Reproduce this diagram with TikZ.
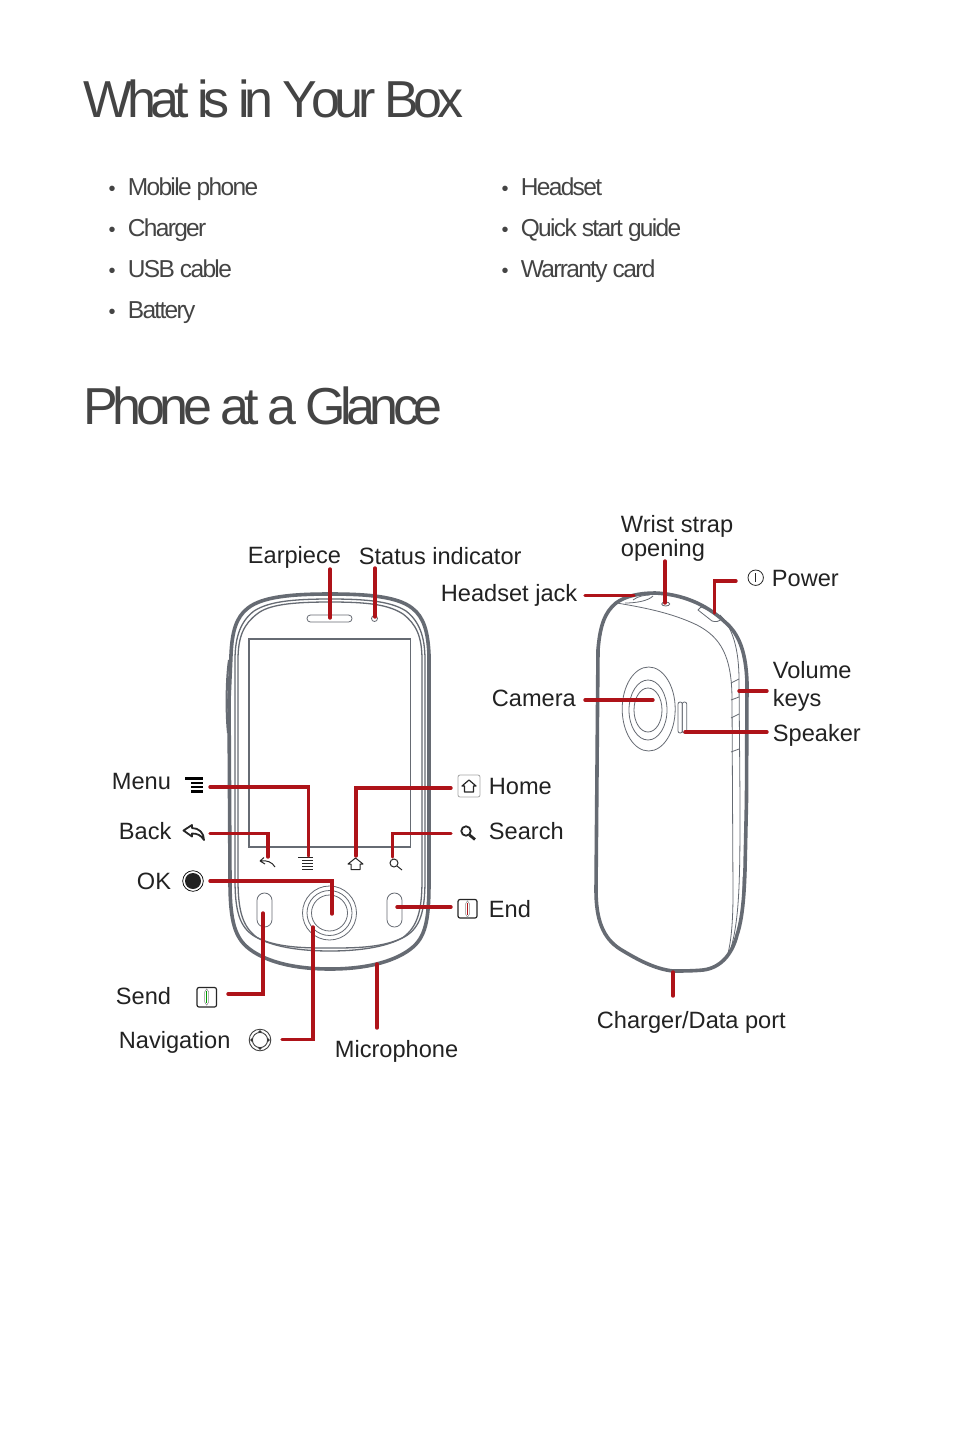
\documentclass[tikz,border=0pt]{standalone}
\usepackage{fontspec}
\setmainfont{Liberation Sans}
\newfontfamily\titlefont[LetterSpace=-10.6,Kerning=Off]{Liberation Sans}
\newfontfamily\listfont[LetterSpace=-6.8]{Liberation Sans}
\definecolor{redline}{HTML}{AE1319}
\definecolor{phonegray}{HTML}{666B73}
\definecolor{titlegray}{HTML}{444444}
\definecolor{labelink}{HTML}{222222}
\tikzset{
  heading/.style={anchor=base west,inner sep=0pt,text=titlegray,font=\titlefont\fontsize{52}{52}\selectfont},
  listitem/.style={anchor=base west,inner sep=0pt,text=titlegray,font=\listfont\fontsize{24.5}{24.5}\selectfont},
  bulletmark/.style={anchor=base,inner sep=0pt,text=titlegray,font=\fontsize{20}{20}\selectfont},
  lab/.style={anchor=base west,inner sep=0pt,text=labelink,font=\fontsize{23.6}{23.6}\selectfont},
  conn/.style={draw=redline,line width=3.4pt,line cap=round,line join=miter},
  thickedge/.style={draw=phonegray,line width=3.6pt,line join=round},
  thinedge/.style={draw=phonegray,line width=0.8pt},
  midedge/.style={draw=phonegray,line width=1.3pt},
  icon/.style={draw=black!85,line width=1pt},
  smallkey/.style={draw=black!85,line width=1pt}
}
\begin{document}
\begin{tikzpicture}[x=1pt,y=-1pt]
\useasboundingbox (0,0) rectangle (954,1429);
\fill[white] (0,0) rectangle (954,1429);

% headings and lists
\node[heading] (t1) at (83.5,117) {What is in Your Box};
\node[heading] (t2) at (83.5,424) {Phone at a Glance};
\foreach \n/\yy/\txt in {a/195/Mobile phone,b/236/Charger,c/277/USB cable,d/318/Battery}{
  \node[bulletmark] (bl\n) at (112,\yy) {•};
  \node[listitem] (il\n) at (127.6,\yy) {\txt};
}
\foreach \n/\yy/\txt in {a/195/Headset,b/236/Quick start guide,c/277/Warranty card}{
  \node[bulletmark] (br\n) at (505,\yy) {•};
  \node[listitem] (ir\n) at (520.6,\yy) {\txt};
}

% front of phone: outer edge
\draw[thickedge] (330,594)
  .. controls (290,594) and (262,597) .. (248,608)
  .. controls (236,617) and (232,632) .. (231,655)
  -- (229,700) -- (230,880)
  .. controls (230,915) and (233,935) .. (247,947)
  .. controls (262,960) and (290,969) .. (330,969)
  .. controls (370,969) and (398,960) .. (413,947)
  .. controls (427,935) and (429,915) .. (429,880)
  -- (429,655)
  .. controls (428,632) and (424,617) .. (412,608)
  .. controls (398,597) and (370,594) .. (330,594) -- cycle;
\draw[draw=phonegray,line width=2pt] (229,660) .. controls (226,680) and (226,715) .. (228,733);
% front: inner edges
\foreach \d in {0,3}{
\draw[midedge] (330,{599+\d})
  .. controls (290,{599+\d}) and (268,{602+\d}) .. ({254+\d},{611+\d})
  .. controls ({241+\d},{621+\d}) and ({235+\d},636) .. ({235+\d},660)
  -- ({235+\d},880)
  .. controls ({235+\d},912) and ({240+\d},927) .. ({254+\d},{936+\d/2})
  .. controls (275,948) and (305,{948+\d}) .. (330,{948+\d})
  .. controls (355,{948+\d}) and (385,948) .. ({406-\d},{936+\d/2})
  .. controls ({420-\d},927) and ({425-\d},912) .. ({425-\d},880)
  -- ({425-\d},660)
  .. controls ({425-\d},636) and ({419-\d},{621+\d}) .. ({406-\d},{611+\d})
  .. controls ({392-\d},{602+\d}) and (370,{599+\d}) .. (330,{599+\d}) -- cycle;
}
% screen and openings
\draw[draw=phonegray,line width=1.3pt] (249,639) rectangle (410.7,847);
\draw[thinedge,rounded corners=3.4pt] (307,615) rectangle (352,622);
\draw[thinedge] (374.5,618.5) circle (3);
\draw[thinedge,rounded corners=7.4pt] (257,893) rectangle (272,927);
\draw[thinedge,rounded corners=7.4pt] (387,893) rectangle (402,927);
\foreach \r in {27,22.5,18}{\draw[thinedge] (329.5,913) circle (\r);}

% small keys on the phone
\draw[smallkey] (260,861) -- (264,857.5) (260,861) -- (265,864) (260.5,861) .. controls (267,860) and (272,862) .. (275,867);
\draw[smallkey] (298,857.5) -- (313,857.5) (302,860.5) -- (313,860.5) (302,863.5) -- (313,863.5) (302,866.5) -- (313,866.5) (302,869) -- (313,869);
\draw[smallkey,line join=round] (348,864) -- (355.5,858) -- (363,864) -- (360,864) -- (360,869.5) -- (351,869.5) -- (351,864) -- cycle;
\draw[smallkey] (394,863) circle (4);
\draw[smallkey] (397,866) -- (402,870);

% back of phone
\draw[thickedge] (655,593)
  .. controls (680,594) and (705,603) .. (725,622)
  .. controls (738,633) and (746,650) .. (747,683)
  -- (746.5,800) -- (745,870)
  .. controls (744,900) and (742,920) .. (737,935)
  .. controls (732,955) and (720,968) .. (703,970)
  .. controls (693,971) and (680,971) .. (673,971)
  .. controls (655,969) and (638,960) .. (620,949)
  .. controls (603,938) and (596,920) .. (596,890)
  -- (597,770) -- (598,650)
  .. controls (600,625) and (605,612) .. (616,603)
  .. controls (625,596) and (640,593) .. (655,593) -- cycle;
\draw[thinedge] (617,603) .. controls (640,607) and (670,612) .. (697,625)
  .. controls (720,637) and (732,655) .. (732,700) -- (733,893)
  .. controls (733,915) and (732,940) .. (727,957);
\draw[thinedge] (720,615) .. controls (733,628) and (739,650) .. (739,680) -- (740,800)
  .. controls (740,880) and (740,925) .. (728,957);
\draw[thinedge] (743,877) .. controls (743,915) and (740,935) .. (730,950);
\foreach \ya/\yb in {683/679,700/697,718/714,752/749}{
  \draw[thinedge] (731,\ya) -- (739,\yb);
}
\draw[thinedge] (648.7,709) ellipse [x radius=26.5,y radius=42];
\draw[thinedge] (648,710) ellipse [x radius=19,y radius=30];
\draw[thinedge] (648,710) ellipse [x radius=14,y radius=22];
\draw[thinedge,rounded corners=2pt] (678,702) rectangle (682.3,733);
\draw[thinedge,rounded corners=2pt] (682.3,702) rectangle (686.7,733);
\draw[thinedge,line join=round] (698,610) -- (701,607) .. controls (708,610) and (716,613) .. (722,618) .. controls (720,622) and (715,622) .. (712,621) -- cycle;
\draw[thinedge] (625,603) .. controls (636,603) and (648,601) .. (653,596);
\draw[thinedge] (633,600) .. controls (638,596) and (645,595) .. (650,595);
\draw[thinedge] (665.7,604) ellipse [x radius=4,y radius=2];

% labels
\node[lab] (earpiece) at (247.7,563) {Earpiece};
\node[lab] (status) at (358.7,564) {Status indicator};
\node[lab] (wrist) at (620.7,532) {Wrist strap};
\node[lab] (opening) at (620.7,556) {opening};
\node[lab] (power) at (771.7,586) {Power};
\node[lab] (headset) at (440.7,601) {Headset jack};
\node[lab] (camera) at (491.7,706) {Camera};
\node[lab] (volume) at (772.7,678) {Volume};
\node[lab] (keys) at (772.7,706) {keys};
\node[lab] (speaker) at (772.7,741) {Speaker};
\node[lab] (menu) at (111.7,789) {Menu};
\node[lab] (back) at (118.7,839) {Back};
\node[lab] (ok) at (136.7,889) {OK};
\node[lab] (send) at (115.7,1004) {Send};
\node[lab] (navigation) at (118.7,1048) {Navigation};
\node[lab] (microphone) at (334.7,1057) {Microphone};
\node[lab] (home) at (488.7,794) {Home};
\node[lab] (search) at (488.7,839) {Search};
\node[lab] (end) at (488.7,917) {End};
\node[lab] (charger) at (596.7,1028) {Charger/Data port};

% icons beside the labels
\draw[draw=black,line width=2.4pt] (185,778.5) -- (203,778.5);
\draw[draw=black,line width=1.7pt] (191,783) -- (203,783) (191,787) -- (203,787);
\draw[draw=black,line width=2.4pt] (191,791.5) -- (203,791.5);
\draw[draw=black!85,line width=1.8pt,line join=round] (183.5,830.5) -- (192,825) -- (192,828) .. controls (199,828) and (204,833) .. (204,840) .. controls (201,835) and (197,833.5) .. (192,833.5) -- (192,836.5) -- cycle;
\draw[draw=black,line width=0.7pt] (193,881) circle (10.3);
\fill[labelink] (193,881) circle (8);
\draw[draw=black!85,line width=1.2pt,rounded corners=2pt] (197,987.5) rectangle (216.5,1007);
\draw[draw=black!45,line width=0.5pt] (206.7,988.8) -- (208.7,992) -- (208.7,1002) -- (206.7,1005.2) -- (204.7,1002) -- (204.7,992) -- cycle;
\fill[green!60!black] (206,991) rectangle (207.4,1003);
\draw[draw=black!75,line width=0.9pt] (260,1040) circle (10.8);
\draw[draw=black!75,line width=0.9pt] (260,1040) circle (7.6);
\fill[black!80] (260,1030) -- (262.3,1032.4) -- (257.7,1032.4) -- cycle
  (260,1050) -- (262.3,1047.6) -- (257.7,1047.6) -- cycle
  (250,1040) -- (252.4,1042.3) -- (252.4,1037.7) -- cycle
  (270,1040) -- (267.6,1042.3) -- (267.6,1037.7) -- cycle;
\draw[draw=black!35,line width=0.8pt,rounded corners=2pt] (458,775) rectangle (480,797);
\draw[icon,line width=1.2pt,line join=round] (462,786) -- (469,780) -- (476,786) -- (473.5,786) -- (473.5,792) -- (464.5,792) -- (464.5,786) -- cycle;
\draw[draw=black!85,line width=1.8pt] (466,831) circle (4.7);
\draw[draw=black!85,line width=2.8pt] (469.5,835) -- (475,839.5);
\draw[draw=black!85,line width=1.2pt,rounded corners=2pt] (458,899.5) rectangle (477,918);
\draw[draw=black!45,line width=0.5pt] (467.5,900.8) -- (469.5,904) -- (469.5,914) -- (467.5,917.2) -- (465.5,914) -- (465.5,904) -- cycle;
\fill[redline] (466.8,903) rectangle (468.2,915);
\draw[draw=black!85,line width=0.8pt] (755.7,577.7) circle (7.7);
\draw[draw=black!85,line width=0.9pt] (755.7,573) -- (755.7,582);

% connectors
\coordinate (cEar) at (330,618);
\coordinate (cEarT) at (330,569);
\draw[conn] (cEarT) -- (cEar);
\coordinate (cStaT) at (375,568);
\coordinate (cSta) at (375,617);
\draw[conn] (cStaT) -- (cSta);
\coordinate (cMenu) at (210,787);
\coordinate (cMenuK) at (308.2,856);
\draw[conn] (cMenu) -| (cMenuK);
\coordinate (cBack) at (210,833.5);
\coordinate (cBackK) at (268,857);
\draw[conn] (cBack) -| (cBackK);
\coordinate (cOk) at (210,881);
\coordinate (cOkK) at (332,914);
\draw[conn] (cOk) -| (cOkK);
\coordinate (cSend) at (228,994);
\coordinate (cSendK) at (263,913);
\draw[conn] (cSend) -| (cSendK);
\coordinate (cNav) at (282,1039.5);
\coordinate (cNavK) at (313,927);
\draw[conn] (cNav) -| (cNavK);
\coordinate (cMicT) at (377,964);
\coordinate (cMicB) at (377,1028);
\draw[conn] (cMicT) -- (cMicB);
\coordinate (cHome) at (451,788);
\coordinate (cHomeK) at (356,856);
\draw[conn] (cHome) -| (cHomeK);
\coordinate (cSearch) at (451,833.5);
\coordinate (cSearchK) at (392.7,857);
\draw[conn] (cSearch) -| (cSearchK);
\coordinate (cEnd) at (451,907);
\coordinate (cEndK) at (397,907);
\draw[conn] (cEnd) -- (cEndK);
\coordinate (cJack) at (585,595.5);
\coordinate (cJackK) at (634,595.5);
\draw[conn] (cJack) -- (cJackK);
\coordinate (cWristT) at (665,561);
\coordinate (cWrist) at (665,603);
\draw[conn] (cWristT) -- (cWrist);
\coordinate (cPow) at (736,581);
\coordinate (cPowK) at (714.5,613);
\draw[conn] (cPow) -| (cPowK);
\coordinate (cVol) at (767,691);
\coordinate (cVolK) at (739,691);
\draw[conn] (cVol) -- (cVolK);
\coordinate (cCam) at (585,700);
\coordinate (cCamK) at (653,700);
\draw[conn] (cCam) -- (cCamK);
\coordinate (cSpk) at (767,732);
\coordinate (cSpkK) at (685,732);
\draw[conn] (cSpk) -- (cSpkK);
\coordinate (cChgT) at (673,972);
\coordinate (cChgB) at (673,996);
\draw[conn] (cChgT) -- (cChgB);
\end{tikzpicture}
\end{document}
